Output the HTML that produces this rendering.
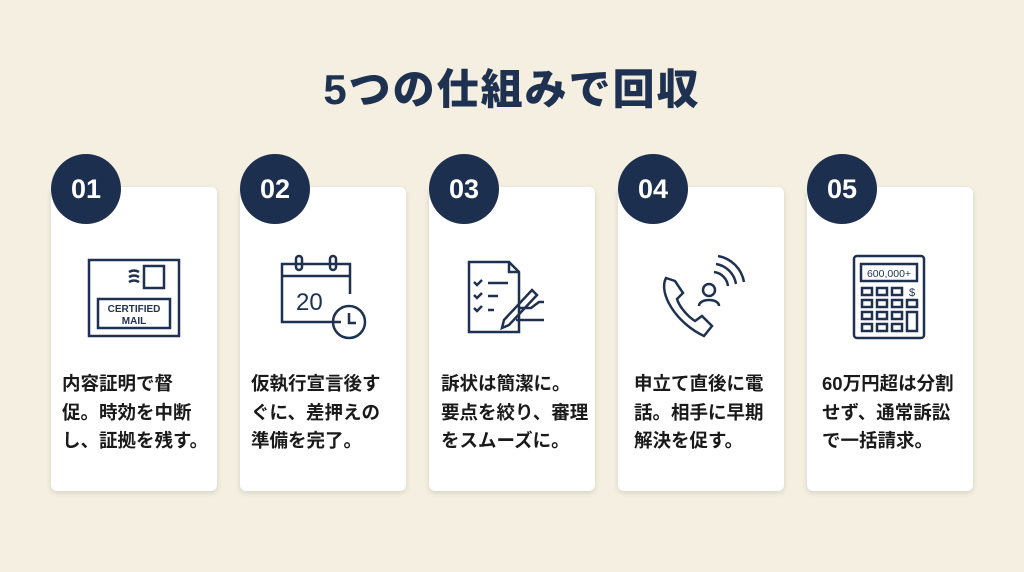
<!DOCTYPE html>
<html><head><meta charset="utf-8"><style>
*{margin:0;padding:0;box-sizing:border-box}
body{width:1024px;height:572px;background:#f4efe1;font-family:"Liberation Sans","Noto Sans CJK JP",sans-serif;position:relative;overflow:hidden}
h1{position:absolute;top:56px;left:0;width:1024px;text-align:center;font-size:42px;font-weight:900;color:#1f3150;letter-spacing:2px}
.card{position:absolute;top:187px;width:166px;height:304px;background:#fff;border-radius:6px;box-shadow:0 2px 6px rgba(0,0,0,.12)}
.num{position:absolute;top:154px;width:70px;height:70px;border-radius:50%;background:#1c2f4f;color:#fff;font-weight:bold;font-size:27px;text-align:center;line-height:70px}
.txt{position:absolute;top:370px;font-size:18.5px;font-weight:bold;color:#1a1a1a;line-height:28.5px;white-space:nowrap}
svg{position:absolute;top:250px}
svg *{fill:none;stroke:#1f3150;stroke-width:2.5}
</style></head><body>
<h1>5つの仕組みで回収</h1>

<div class="card" style="left:51px"></div>
<div class="card" style="left:240px"></div>
<div class="card" style="left:429px"></div>
<div class="card" style="left:618px"></div>
<div class="card" style="left:807px"></div>

<div class="num" style="left:51px">01</div>
<div class="num" style="left:240px">02</div>
<div class="num" style="left:429px">03</div>
<div class="num" style="left:618px">04</div>
<div class="num" style="left:807px">05</div>

<svg style="left:84px" width="100" height="90" viewBox="0 0 100 90">
<rect x="5" y="10" width="90" height="76"/>
<rect x="14" y="49" width="72" height="29" stroke-width="2"/>
<rect x="60" y="16" width="20" height="22" stroke-width="2"/>
<path d="M45 22q5-3 10 0M45 27q5-3 10 0M45 32q5-3 10 0" stroke-width="2"/>
<text x="50" y="62" text-anchor="middle" style="fill:#1f3150;stroke:none;font-size:10px;font-weight:bold;font-family:'Liberation Sans',sans-serif">CERTIFIED</text>
<text x="50" y="74" text-anchor="middle" style="fill:#1f3150;stroke:none;font-size:10px;font-weight:bold;font-family:'Liberation Sans',sans-serif">MAIL</text>
</svg>

<svg style="left:276px" width="100" height="95" viewBox="0 0 100 95">
<path d="M65 72H6V14h68v30"/>
<line x1="6" y1="26" x2="74" y2="26"/>
<rect x="20" y="6" width="6" height="14" rx="3"/><rect x="54" y="6" width="6" height="14" rx="3"/>
<circle cx="73" cy="72" r="16"/><path d="M73 63v10h7"/>
<text x="20" y="60" style="fill:#1f3150;stroke:none;font-size:24px;font-family:'Liberation Sans',sans-serif">20</text>
</svg>

<svg style="left:464px" width="100" height="95" viewBox="0 0 100 95">
<path d="M5 12h40l10 10v60H5z"/><path d="M45 12v10h10"/>
<path d="M10 32l3 3 5-5M10 45l3 3 5-5M10 58l3 3 5-5" stroke-width="2"/>
<path d="M24 33h20M24 46h10M24 60h6" stroke-width="2"/>
<path d="M40 70l28-30 5 5-28 30-7 3z"/><path d="M55 58h12l8-6h5M52 70h28" stroke-width="2"/>
</svg>

<svg style="left:656px" width="95" height="95" viewBox="0 0 95 95">
<path d="M10 28c-8 15 10 45 38 58l8-10-10-10-7 5c-8-5-16-15-18-22l6-6-8-12z" />
<circle cx="53" cy="40" r="6"/><path d="M43 56c0-8 20-8 20 0"/>
<path d="M58 22a16 16 0 0 1 14 14M60 14a24 24 0 0 1 20 20M62 6a32 32 0 0 1 26 26"/>
</svg>

<svg style="left:850px" width="80" height="95" viewBox="0 0 80 95">
<rect x="4" y="6" width="70" height="82" rx="3"/>
<rect x="11" y="14" width="56" height="17" stroke-width="2"/>
<text x="39" y="27" text-anchor="middle" style="fill:#1f3150;stroke:none;font-size:10.5px;font-family:'Liberation Sans',sans-serif">600,000+</text>
<g stroke-width="2">
<rect x="12" y="38" width="10" height="7"/><rect x="27" y="38" width="10" height="7"/><rect x="42" y="38" width="10" height="7"/>
<rect x="12" y="50" width="10" height="7"/><rect x="27" y="50" width="10" height="7"/><rect x="42" y="50" width="10" height="7"/><rect x="57" y="50" width="10" height="7"/>
<rect x="12" y="62" width="10" height="7"/><rect x="27" y="62" width="10" height="7"/><rect x="42" y="62" width="10" height="7"/><rect x="57" y="62" width="10" height="19"/>
<rect x="12" y="74" width="10" height="7"/><rect x="27" y="74" width="10" height="7"/><rect x="42" y="74" width="10" height="7"/>
</g>
<text x="62" y="46" text-anchor="middle" style="fill:#1f3150;stroke:none;font-size:11px;font-family:'Liberation Sans',sans-serif">$</text>
</svg>

<div class="txt" style="left:62px">内容証明で督<br>促。時効を中断<br>し、証拠を残す。</div>
<div class="txt" style="left:251px">仮執行宣言後す<br>ぐに、差押えの<br>準備を完了。</div>
<div class="txt" style="left:441px">訴状は簡潔に。<br>要点を絞り、審理<br>をスムーズに。</div>
<div class="txt" style="left:634px">申立て直後に電<br>話。相手に早期<br>解決を促す。</div>
<div class="txt" style="left:822px">60万円超は分割<br>せず、通常訴訟<br>で一括請求。</div>
</body></html>
